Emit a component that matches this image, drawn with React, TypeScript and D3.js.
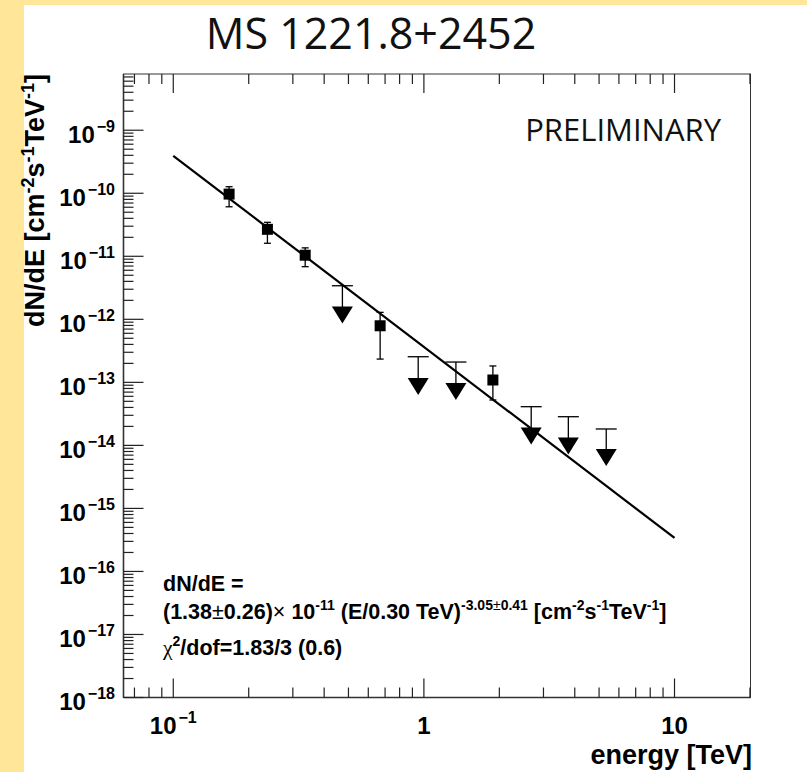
import React from 'react';
import * as d3 from 'd3';

const W = 807;
const H = 772;

// Measured spectral points (squares with error bars)
const energy = [0.167, 0.2375, 0.336, 0.669, 1.885];
const flux = [9.7e-11, 2.68e-11, 1.04e-11, 7.9e-13, 1.09e-13];
const fluxHigh = [1.27e-10, 3.46e-11, 1.36e-11, 1.29e-12, 1.82e-13];
const fluxLow = [6.1e-11, 1.61e-11, 6.84e-12, 2.34e-13, 5.25e-14];

// Upper limits (bar at limit, down-triangle marker below)
const ulEnergy = [0.473, 0.949, 1.342, 2.68, 3.77, 5.34];
const ulFlux = [3.41e-12, 2.55e-13, 2.1e-13, 4.11e-14, 2.85e-14, 1.82e-14];
const ulMarker = [1.17e-12, 8.6e-14, 7.16e-14, 1.41e-14, 9.8e-15, 6.43e-15];

// Power-law fit line end points (straight in log-log)
const fitEnergy = [0.1, 10];
const fitFlux = [3.93e-10, 3.4e-16];

const yTickExps = [-18, -17, -16, -15, -14, -13, -12, -11, -10, -9];
const xTickLabels = [
  { v: 0.1, base: '10', exp: '\u22121' },
  { v: 1, base: '1', exp: '' },
  { v: 10, base: '10', exp: '' },
];

const L = 123.5, R = 750.5, T = 74, B = 697.5;

export default function App() {
  const x = d3.scaleLog().domain([0.0633, 20.1]).range([L, R]);
  const y = d3.scaleLog().domain([1e-18, 7.8e-9]).range([B, T]);

  const xMinor: number[] = [];
  for (let d = -2; d <= 1; d++) {
    for (let k = 2; k <= 9; k++) {
      const v = k * Math.pow(10, d);
      if (v > 0.0633 && v < 20.1) xMinor.push(v);
    }
  }
  const xMajor = [0.1, 1, 10];
  const yMinor: number[] = [];
  for (let d = -18; d <= -9; d++) {
    for (let k = 2; k <= 9; k++) {
      const v = k * Math.pow(10, d);
      if (v < 7.8e-9) yMinor.push(v);
    }
  }

  const line = d3
    .line<number>()
    .x((_, i) => x(fitEnergy[i]))
    .y((_, i) => y(fitFlux[i]));

  const bold = { fontFamily: '"Liberation Sans", Arial, sans-serif', fontWeight: 700 };
  const tickCol = '#222';
  const sup = 14;

  return (
    <svg
      width={W}
      height={H}
      style={{ position: 'absolute', left: 0, top: 0, background: '#fff' }}
    >
      <rect x={0} y={0} width={W} height={H} fill="#FFE699" />
      <rect x={24} y={5} width={W - 24} height={H - 5} fill="#ffffff" />

      {/* Title */}
      <text
        x={371}
        y={49}
        textAnchor="middle"
        style={{ fontFamily: '"Open Sans", sans-serif', fontSize: 43 }}
        fill="#111"
      >
        MS 1221.8+2452
      </text>

      {/* frame */}
      <rect x={L} y={T} width={R - L} height={B - T} fill="none" stroke="#333" strokeWidth={1} />
      <line x1={L} x2={R} y1={B} y2={B} stroke="#333" strokeWidth={1.6} />
      <line x1={L} x2={L} y1={T} y2={B} stroke="#333" strokeWidth={1.6} />

      {/* x ticks bottom and top */}
      {xMajor.map((v) => (
        <g key={'xM' + v}>
          <line x1={x(v)} x2={x(v)} y1={B} y2={B - 19} stroke={tickCol} strokeWidth={1.2} />
          <line x1={x(v)} x2={x(v)} y1={T} y2={T + 19} stroke={tickCol} strokeWidth={1.2} />
        </g>
      ))}
      {xMinor.map((v) => (
        <g key={'xm' + v}>
          <line x1={x(v)} x2={x(v)} y1={B} y2={B - 10} stroke={tickCol} strokeWidth={1.2} />
          <line x1={x(v)} x2={x(v)} y1={T} y2={T + 10} stroke={tickCol} strokeWidth={1.2} />
        </g>
      ))}

      {/* y ticks */}
      {yTickExps.map((e) => (
        <line
          key={'yM' + e}
          x1={L}
          x2={L + 20}
          y1={y(Math.pow(10, e))}
          y2={y(Math.pow(10, e))}
          stroke={tickCol}
          strokeWidth={1.2}
        />
      ))}
      {yMinor.map((v, i) => (
        <line key={'ym' + i} x1={L} x2={L + 10} y1={y(v)} y2={y(v)} stroke={tickCol} strokeWidth={1.2} />
      ))}

      {/* y tick labels */}
      {yTickExps.map((e) => (
        <text
          key={'yl' + e}
          x={115}
          y={y(Math.pow(10, e)) + 12.5}
          textAnchor="end"
          style={{ ...bold, fontSize: 24 }}
          fill="#000"
        >
          10
          <tspan dx={2} dy={-11} style={{ fontSize: 16 }}>
            {'\u2212' + Math.abs(e)}
          </tspan>
        </text>
      ))}

      {/* x tick labels */}
      {xTickLabels.map((t) => (
        <text
          key={'xl' + t.v}
          x={x(t.v)}
          y={734}
          textAnchor="middle"
          style={{ ...bold, fontSize: 24 }}
          fill="#000"
        >
          {t.base}
          {t.exp && (
            <tspan dx={2} dy={-11} style={{ fontSize: 16 }}>
              {t.exp}
            </tspan>
          )}
        </text>
      ))}

      {/* axis titles */}
      <text
        x={752}
        y={764}
        textAnchor="end"
        style={{ ...bold, fontSize: 27 }}
        fill="#000"
      >
        energy [TeV]
      </text>
      <text
        transform="translate(44,74) rotate(-90)"
        textAnchor="end"
        style={{ ...bold, fontSize: 27 }}
        fill="#000"
      >
        dN/dE [cm
        <tspan dy={-10} style={{ fontSize: 18 }}>-2</tspan>
        <tspan dy={10}>s</tspan>
        <tspan dy={-10} style={{ fontSize: 18 }}>-1</tspan>
        <tspan dy={10}>TeV</tspan>
        <tspan dy={-10} style={{ fontSize: 18 }}>-1</tspan>
        <tspan dy={10}>]</tspan>
      </text>

      {/* PRELIMINARY */}
      <text
        x={721}
        y={141}
        textAnchor="end"
        style={{ fontFamily: '"Open Sans", sans-serif', fontSize: 31 }}
        fill="#111"
      >
        PRELIMINARY
      </text>

      {/* fit line */}
      <path d={line(fitEnergy) || ''} fill="none" stroke="#000" strokeWidth={2.2} />

      {/* data points */}
      {energy.map((e, i) => {
        const cx = x(e);
        const cy = y(flux[i]);
        const yh = y(fluxHigh[i]);
        const yl = y(fluxLow[i]);
        return (
          <g key={'p' + i}>
            <line x1={cx} x2={cx} y1={yh} y2={yl} stroke="#000" strokeWidth={1.3} />
            <line x1={cx - 3.5} x2={cx + 3.5} y1={yh} y2={yh} stroke="#000" strokeWidth={1.3} />
            <line x1={cx - 3.5} x2={cx + 3.5} y1={yl} y2={yl} stroke="#000" strokeWidth={1.3} />
            <rect x={cx - 5.5} y={cy - 5.5} width={11} height={11} fill="#000" />
          </g>
        );
      })}

      {/* upper limits */}
      {ulEnergy.map((e, i) => {
        const cx = x(e);
        const yb = y(ulFlux[i]);
        const ym = y(ulMarker[i]);
        return (
          <g key={'u' + i}>
            <line x1={cx} x2={cx} y1={yb} y2={ym} stroke="#000" strokeWidth={1.3} />
            <line x1={cx - 10.5} x2={cx + 10.5} y1={yb} y2={yb} stroke="#000" strokeWidth={1.3} />
            <path
              d={`M${cx - 10.5},${ym - 8.5} L${cx + 10.5},${ym - 8.5} L${cx},${ym + 8.5} Z`}
              fill="#000"
            />
          </g>
        );
      })}

      {/* fit result text */}
      <g style={{ ...bold, fontSize: 21.5 }} fill="#000">
        <text x={163} y={591}>dN/dE =</text>
        <text x={163} y={619}>
          (1.38
          <tspan style={{ fontWeight: 400 }}>±</tspan>
          0.26)
          <tspan style={{ fontWeight: 400 }}>×</tspan> 10
          <tspan dy={-9} style={{ fontSize: sup }}>-11</tspan>
          <tspan dy={9}> (E/0.30 TeV)</tspan>
          <tspan dy={-9} style={{ fontSize: sup }}>-3.05</tspan>
          <tspan style={{ fontSize: sup, fontWeight: 400 }}>±</tspan>
          <tspan style={{ fontSize: sup }}>0.41</tspan>
          <tspan dy={9}> [cm</tspan>
          <tspan dy={-9} style={{ fontSize: sup }}>-2</tspan>
          <tspan dy={9}>s</tspan>
          <tspan dy={-9} style={{ fontSize: sup }}>-1</tspan>
          <tspan dy={9}>TeV</tspan>
          <tspan dy={-9} style={{ fontSize: sup }}>-1</tspan>
          <tspan dy={9}>]</tspan>
        </text>
        <text x={163} y={655}>
          <tspan style={{ fontFamily: '"Liberation Serif", serif', fontWeight: 400 }}>χ</tspan>
          <tspan dy={-9} style={{ fontSize: sup }}>2</tspan>
          <tspan dy={9}>/dof=1.83/3 (0.6)</tspan>
        </text>
      </g>
    </svg>
  );
}
